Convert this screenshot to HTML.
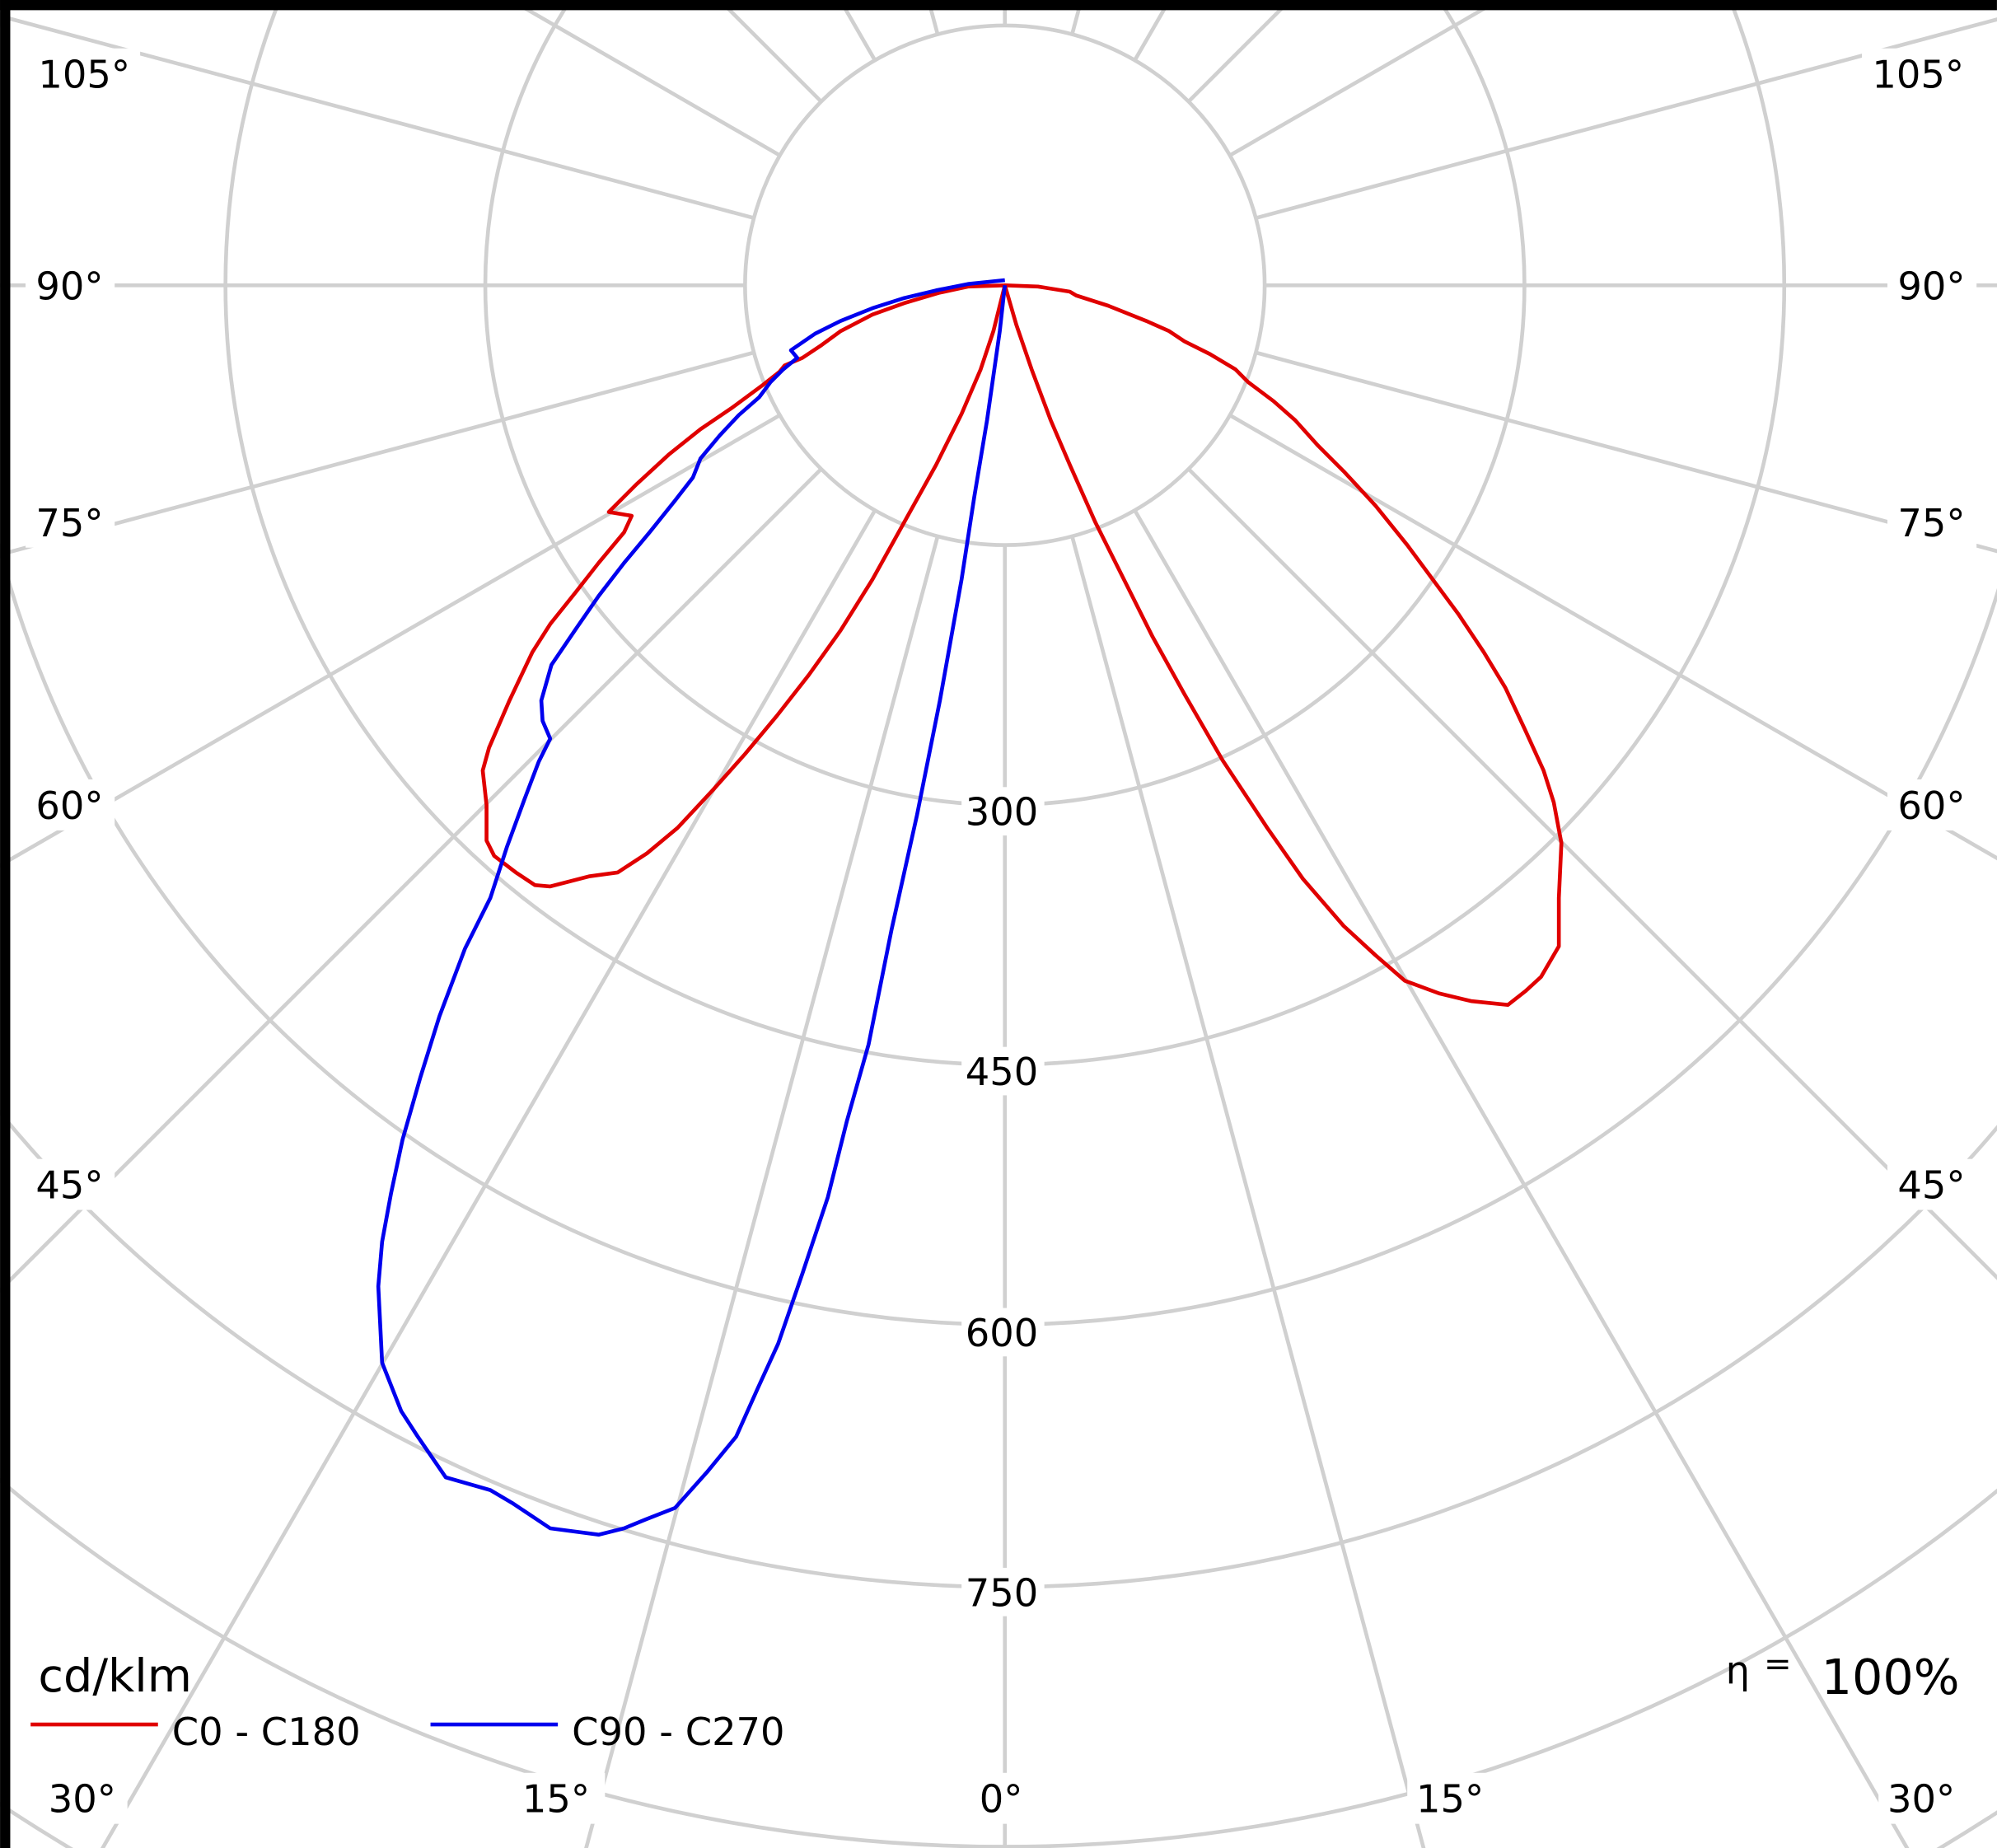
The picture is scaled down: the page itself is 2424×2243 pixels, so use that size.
<!DOCTYPE html>
<html><head><meta charset="utf-8"><style>
html,body{margin:0;padding:0;background:#fff;overflow:hidden;width:2424px;height:2243px}
svg{display:block;overflow:hidden;position:absolute;left:0;top:0}
text{font-family:"DejaVu Sans","Liberation Sans",sans-serif;fill:#000}
</style></head><body>
<svg width="2424" height="2243" viewBox="0 0 1568 1451" xmlns="http://www.w3.org/2000/svg">
<rect width="1568" height="1451" fill="#fff"/>
<g stroke="#d0d0d0" stroke-width="3" fill="none">
<circle cx="789" cy="224" r="204"/>
<circle cx="789" cy="224" r="408"/>
<circle cx="789" cy="224" r="612"/>
<circle cx="789" cy="224" r="816"/>
<circle cx="789" cy="224" r="1022"/>
<circle cx="789" cy="224" r="1226"/>
<circle cx="789" cy="224" r="1430"/>
<g transform="translate(789 224)">
<line x1="0" y1="204" x2="0" y2="2500" transform="rotate(0)"/>
<line x1="0" y1="204" x2="0" y2="2500" transform="rotate(15)"/>
<line x1="0" y1="204" x2="0" y2="2500" transform="rotate(30)"/>
<line x1="0" y1="204" x2="0" y2="2500" transform="rotate(45)"/>
<line x1="0" y1="204" x2="0" y2="2500" transform="rotate(60)"/>
<line x1="0" y1="204" x2="0" y2="2500" transform="rotate(75)"/>
<line x1="0" y1="204" x2="0" y2="2500" transform="rotate(90)"/>
<line x1="0" y1="204" x2="0" y2="2500" transform="rotate(105)"/>
<line x1="0" y1="204" x2="0" y2="2500" transform="rotate(120)"/>
<line x1="0" y1="204" x2="0" y2="2500" transform="rotate(135)"/>
<line x1="0" y1="204" x2="0" y2="2500" transform="rotate(150)"/>
<line x1="0" y1="204" x2="0" y2="2500" transform="rotate(165)"/>
<line x1="0" y1="204" x2="0" y2="2500" transform="rotate(180)"/>
<line x1="0" y1="204" x2="0" y2="2500" transform="rotate(195)"/>
<line x1="0" y1="204" x2="0" y2="2500" transform="rotate(210)"/>
<line x1="0" y1="204" x2="0" y2="2500" transform="rotate(225)"/>
<line x1="0" y1="204" x2="0" y2="2500" transform="rotate(240)"/>
<line x1="0" y1="204" x2="0" y2="2500" transform="rotate(255)"/>
<line x1="0" y1="204" x2="0" y2="2500" transform="rotate(270)"/>
<line x1="0" y1="204" x2="0" y2="2500" transform="rotate(285)"/>
<line x1="0" y1="204" x2="0" y2="2500" transform="rotate(300)"/>
<line x1="0" y1="204" x2="0" y2="2500" transform="rotate(315)"/>
<line x1="0" y1="204" x2="0" y2="2500" transform="rotate(330)"/>
<line x1="0" y1="204" x2="0" y2="2500" transform="rotate(345)"/>
</g>
</g>
<g font-size="30">
<g fill="#fff">
<rect x="20" y="38" width="90" height="40"/><rect x="1462" y="38" width="90" height="40"/>
<rect x="20" y="204" width="70" height="40"/><rect x="1482" y="204" width="70" height="40"/>
<rect x="20" y="390" width="70" height="40"/><rect x="1482" y="390" width="70" height="40"/>
<rect x="20" y="612" width="70" height="40"/><rect x="1482" y="612" width="70" height="40"/>
<rect x="20" y="910" width="70" height="40"/><rect x="1482" y="910" width="70" height="40"/>
<rect x="30" y="1392" width="70" height="40"/><rect x="1475" y="1392" width="70" height="40"/>
<rect x="405" y="1392" width="70" height="40"/><rect x="1105" y="1392" width="70" height="40"/>
<rect x="762" y="1392" width="55" height="40"/>
<rect x="755" y="618" width="65" height="38"/><rect x="755" y="822" width="65" height="38"/>
<rect x="755" y="1027" width="65" height="38"/><rect x="755" y="1231" width="65" height="38"/>
</g>
<text x="30" y="69">105°</text><text x="1470" y="69">105°</text>
<text x="28" y="235">90°</text><text x="1490" y="235">90°</text>
<text x="28" y="421">75°</text><text x="1490" y="421">75°</text>
<text x="28" y="643">60°</text><text x="1490" y="643">60°</text>
<text x="28" y="941">45°</text><text x="1490" y="941">45°</text>
<text x="38" y="1423">30°</text><text x="1482" y="1423">30°</text>
<text x="410" y="1423">15°</text><text x="1112" y="1423">15°</text>
<text x="769" y="1423">0°</text>
<text x="758" y="648">300</text><text x="758" y="852">450</text>
<text x="758" y="1057">600</text><text x="758" y="1261">750</text>
</g>
<polyline fill="none" stroke="#e00000" stroke-width="3" stroke-linejoin="round" points="789,224 815,225 840,229 845,232 870,240 900,252 918,260 930,268 950,278 970,290 980,300 1000,315 1017,330 1035,350 1055,370 1080,397 1105,428 1125,455 1145,482 1165,512 1182,540 1197,572 1212,605 1220,630 1226,662 1224,705 1224,743 1210,767 1198,778 1184,789 1155,786 1130,780 1103,770 1080,750 1055,727 1023,690 995,650 960,597 930,545 905,500 880,450 860,410 840,365 825,330 810,290 798,255 789,224 780,260 770,290 755,325 735,365 710,410 685,455 660,495 635,530 610,562 585,592 560,620 532,650 508,670 485,685 463,688 432,696 420,695 405,685 388,672 382,660 382,632 379,605 384,587 400,550 418,512 432,490 452,465 470,442 490,418 496,405 478,402 500,380 525,357 550,337 575,320 598,303 612,292 616,287 630,281 645,271 660,260 685,247 710,238 737,230 760,225 789,224"/>
<polyline fill="none" stroke="#0000ee" stroke-width="3" stroke-linejoin="round" points="789,224 785,260 775,330 765,390 755,455 738,550 720,640 700,730 682,820 665,880 650,940 630,1000 611,1055 595,1090 578,1128 555,1156 530,1184 507,1193 490,1200 470,1205 432,1200 402,1180 385,1170 350,1160 328,1128 315,1108 300,1070 297,1010 300,975 307,937 316,895 330,846 345,798 365,745 385,705 398,665 412,627 423,598 432,580 426,566 425,550 433,522 452,494 470,468 490,442 510,418 530,393 544,375 550,360 565,342 580,326 596,312 605,300 615,290 626,281 621,275 640,262 660,252 685,242 710,234 735,228 760,223 789,220"/>
<text x="30" y="1328" font-size="36">cd/klm</text>
<line x1="24" y1="1354" x2="124" y2="1354" stroke="#e00000" stroke-width="3"/>
<text x="135" y="1370" font-size="30">C0 - C180</text>
<line x1="338" y1="1354" x2="438" y2="1354" stroke="#0000ee" stroke-width="3"/>
<text x="449" y="1370" font-size="30">C90 - C270</text>
<text x="1355" y="1322" font-size="30" font-family="Liberation Serif,serif">η</text>
<text x="1385" y="1315" font-size="26">=</text>
<text x="1430" y="1330" font-size="38">100%</text>
<rect x="0" y="0" width="1568" height="8" fill="#000"/>
<rect x="0" y="0" width="8" height="1451" fill="#000"/>
</svg>
</body></html>
